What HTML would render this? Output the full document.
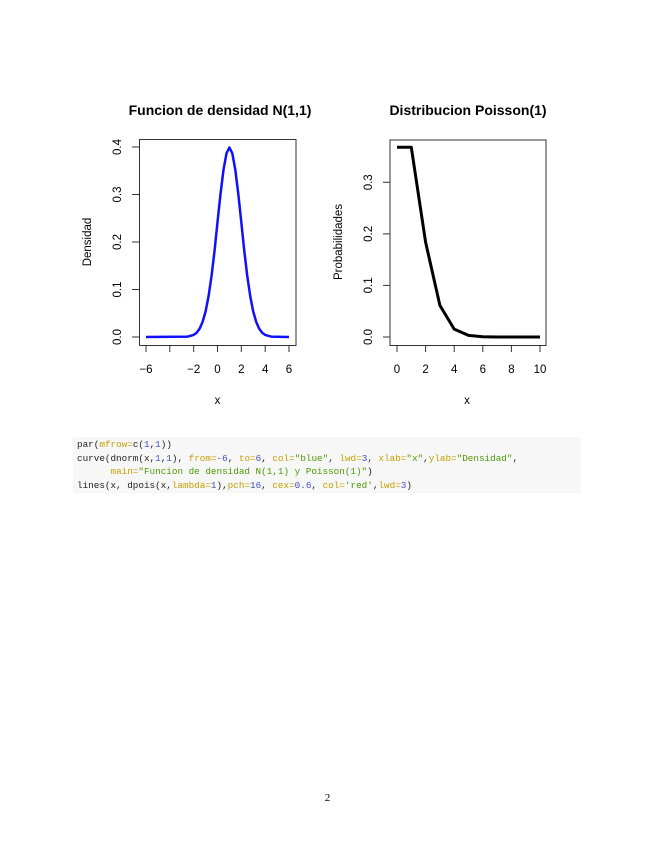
<!DOCTYPE html>
<html><head><meta charset="utf-8"><style>
body{margin:0;background:#fff;width:655px;height:848px;position:relative;overflow:hidden}
.code{position:absolute;left:73px;top:437px;width:508px;height:56px;background:#f7f7f7}
.code pre{margin:0;position:absolute;left:4px;top:1px;font-family:"Liberation Mono",monospace;font-size:9.3px;line-height:13.6px;color:#222}
.a{color:#c4a000}.n{color:#3b4ec8}.s{color:#4e9a06}
.pg{position:absolute;left:0;width:655px;top:792px;text-align:center;font-family:"Liberation Serif",serif;font-size:11px}
</style></head><body>
<svg width="655" height="848" style="position:absolute;left:0;top:0" font-family="Liberation Sans, sans-serif">
<g font-size="11.5" fill="#000">
<!-- left plot -->
<text x="220" y="115" text-anchor="middle" font-weight="bold" font-size="14">Funcion de densidad N(1,1)</text>
<rect x="139.5" y="139.5" width="156.5" height="206" fill="none" stroke="#333" stroke-width="1"/>
<polyline fill="none" stroke="#1010ff" stroke-width="2.5" stroke-linejoin="round" points="146,337 187.7,336.6 193.7,334.9 196.6,332.7 199.6,328.7 202.6,321.9 205.6,311.4 208.6,296 211.6,275.5 214.6,250.3 217.5,222.1 220.5,194 223.5,169.8 226.5,153.3 229.4,147.5 232.3,153.3 235.3,169.8 238.3,194 241.3,222.1 244.2,250.3 247.2,275.5 250.2,296 253.2,311.4 256.2,321.9 259.2,328.7 262.2,332.7 265.1,334.9 271.1,336.6 289,337"/>
<g stroke="#333"><line x1="146" y1="345.5" x2="289" y2="345.5"/>
<line x1="146" y1="345" x2="146" y2="352"/><line x1="169.8" y1="345" x2="169.8" y2="352"/><line x1="193.7" y1="345" x2="193.7" y2="352"/><line x1="217.5" y1="345" x2="217.5" y2="352"/><line x1="241.3" y1="345" x2="241.3" y2="352"/><line x1="265.2" y1="345" x2="265.2" y2="352"/><line x1="289" y1="345" x2="289" y2="352"/>
<line x1="139.5" y1="147" x2="139.5" y2="337"/>
<line x1="132" y1="337" x2="139" y2="337"/><line x1="132" y1="289.5" x2="139" y2="289.5"/><line x1="132" y1="242" x2="139" y2="242"/><line x1="132" y1="194.5" x2="139" y2="194.5"/><line x1="132" y1="147" x2="139" y2="147"/></g>
<g text-anchor="middle"><text x="146" y="373">−6</text><text x="193.7" y="373">−2</text><text x="217.5" y="373">0</text><text x="241.3" y="373">2</text><text x="265.2" y="373">4</text><text x="289" y="373">6</text>
<text x="217.5" y="404">x</text></g>
<g text-anchor="middle"><text transform="translate(121,337) rotate(-90)">0.0</text><text transform="translate(121,289.5) rotate(-90)">0.1</text><text transform="translate(121,242) rotate(-90)">0.2</text><text transform="translate(121,194.5) rotate(-90)">0.3</text><text transform="translate(121,147) rotate(-90)">0.4</text>
<text transform="translate(91,242) rotate(-90)">Densidad</text></g>
<!-- right plot -->
<text x="468" y="115" text-anchor="middle" font-weight="bold" font-size="14">Distribucion Poisson(1)</text>
<rect x="390" y="140" width="156" height="205.5" fill="none" stroke="#333" stroke-width="1"/>
<polyline fill="none" stroke="#000" stroke-width="3" stroke-linejoin="round" points="397,147.3 411.3,147.3 425.6,242.2 439.9,305.4 454.2,329.1 468.5,335.4 482.8,336.7 497.1,337 511.4,337 525.7,337 540,337"/>
<g stroke="#333"><line x1="397" y1="345.5" x2="540" y2="345.5"/>
<line x1="397" y1="345" x2="397" y2="352"/><line x1="425.6" y1="345" x2="425.6" y2="352"/><line x1="454.2" y1="345" x2="454.2" y2="352"/><line x1="482.8" y1="345" x2="482.8" y2="352"/><line x1="511.4" y1="345" x2="511.4" y2="352"/><line x1="540" y1="345" x2="540" y2="352"/>
<line x1="390" y1="183" x2="390" y2="337"/>
<line x1="383" y1="337" x2="390" y2="337"/><line x1="383" y1="285.4" x2="390" y2="285.4"/><line x1="383" y1="233.9" x2="390" y2="233.9"/><line x1="383" y1="182.3" x2="390" y2="182.3"/></g>
<g text-anchor="middle"><text x="397" y="373">0</text><text x="425.6" y="373">2</text><text x="454.2" y="373">4</text><text x="482.8" y="373">6</text><text x="511.4" y="373">8</text><text x="540" y="373">10</text>
<text x="467" y="404">x</text></g>
<g text-anchor="middle"><text transform="translate(372,337) rotate(-90)">0.0</text><text transform="translate(372,285.4) rotate(-90)">0.1</text><text transform="translate(372,233.9) rotate(-90)">0.2</text><text transform="translate(372,182.3) rotate(-90)">0.3</text>
<text transform="translate(342,242) rotate(-90)">Probabilidades</text></g>
</g>
</svg>
<div class="code"><pre>par(<span class="a">mfrow=</span>c(<span class="n">1</span>,<span class="n">1</span>))
curve(dnorm(x,<span class="n">1</span>,<span class="n">1</span>), <span class="a">from=</span><span class="n">-6</span>, <span class="a">to=</span><span class="n">6</span>, <span class="a">col=</span><span class="s">"blue"</span>, <span class="a">lwd=</span><span class="n">3</span>, <span class="a">xlab=</span><span class="s">"x"</span>,<span class="a">ylab=</span><span class="s">"Densidad"</span>,
      <span class="a">main=</span><span class="s">"Funcion de densidad N(1,1) y Poisson(1)"</span>)
lines(x, dpois(x,<span class="a">lambda=</span><span class="n">1</span>),<span class="a">pch=</span><span class="n">16</span>, <span class="a">cex=</span><span class="n">0.6</span>, <span class="a">col=</span><span class="s">'red'</span>,<span class="a">lwd=</span><span class="n">3</span>)</pre></div>
<div class="pg">2</div>
</body></html>
